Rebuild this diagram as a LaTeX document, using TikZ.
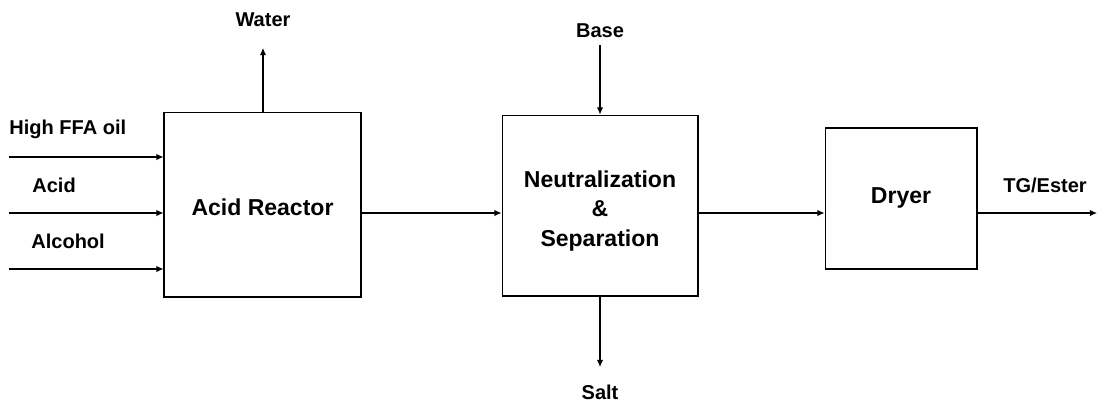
\documentclass[tikz,border=0pt]{standalone}
\usepackage{fontspec}
\setmainfont{Liberation Sans}
\usepackage{tikz}
\usetikzlibrary{arrows.meta, positioning, calc}
\tikzstyle{unit} = [rectangle, draw, line width=0.6pt, inner sep=0pt]
\tikzstyle{unitname} = [align=center, font=\bfseries\fontsize{13.1}{17}\selectfont, inner sep=0pt]
\tikzstyle{stream} = [font=\bfseries\fontsize{11.4}{13}\selectfont, inner sep=0pt]
\tikzstyle{arrow} = [draw, line width=0.6pt, -{Latex[length=4pt,width=3.6pt]}]

\begin{document}
\begin{tikzpicture}[x=0.02cm, y=-0.02cm]
    \useasboundingbox (0,0) rectangle (1114,407);

    % process units
    \node (reactor) [unit, minimum width=3.94cm, minimum height=3.7cm] at (262.5,204.5) {};
    \node (neutral) [unit, minimum width=3.92cm, minimum height=3.62cm] at (600,205.5) {};
    \node (dryer) [unit, minimum width=3.04cm, minimum height=2.82cm] at (901,198.5) {};

    \node (reactor_name) [unitname] at (262.5,207) {Acid Reactor};
    \node (neutral_name) [unitname] at (600,211) {Neutralization\\\&\\Separation};
    \node (dryer_name) [unitname] at (901,198) {Dryer};

    % feed streams
    \coordinate (oil_in) at (9,157);
    \coordinate (acid_in) at (9,213);
    \coordinate (alc_in) at (9,269);
    \node (oil) [stream, anchor=west] at (9,129) {High FFA oil};
    \node (acid) [stream, anchor=west] at (32,185) {Acid};
    \node (alc) [stream, anchor=west] at (31,241) {Alcohol};

    \draw [arrow] (oil_in) -- (oil_in -| reactor.west);
    \draw [arrow] (acid_in) -- (acid_in -| reactor.west);
    \draw [arrow] (alc_in) -- (alc_in -| reactor.west);

    % side streams
    \node (water) [stream] at (263,20) {Water};
    \coordinate (water_out) at (263,48);
    \draw [arrow] (reactor.north -| water_out) -- (water_out);

    \node (base) [stream] at (600,31) {Base};
    \coordinate (base_in) at (600,45);
    \draw [arrow] (base_in) -- (neutral.north);

    \node (salt) [stream] at (600,392) {Salt};
    \coordinate (salt_out) at (600,367);
    \draw [arrow] (neutral.south) -- (salt_out);

    % main line
    \coordinate (main) at (0,213);
    \draw [arrow] (main -| reactor.east) -- (main -| neutral.west);
    \draw [arrow] (main -| neutral.east) -- (main -| dryer.west);

    \node (product) [stream] at (1045,185) {TG/Ester};
    \coordinate (prod_out) at (1097,213);
    \draw [arrow] (main -| dryer.east) -- (prod_out);
\end{tikzpicture}
\end{document}
